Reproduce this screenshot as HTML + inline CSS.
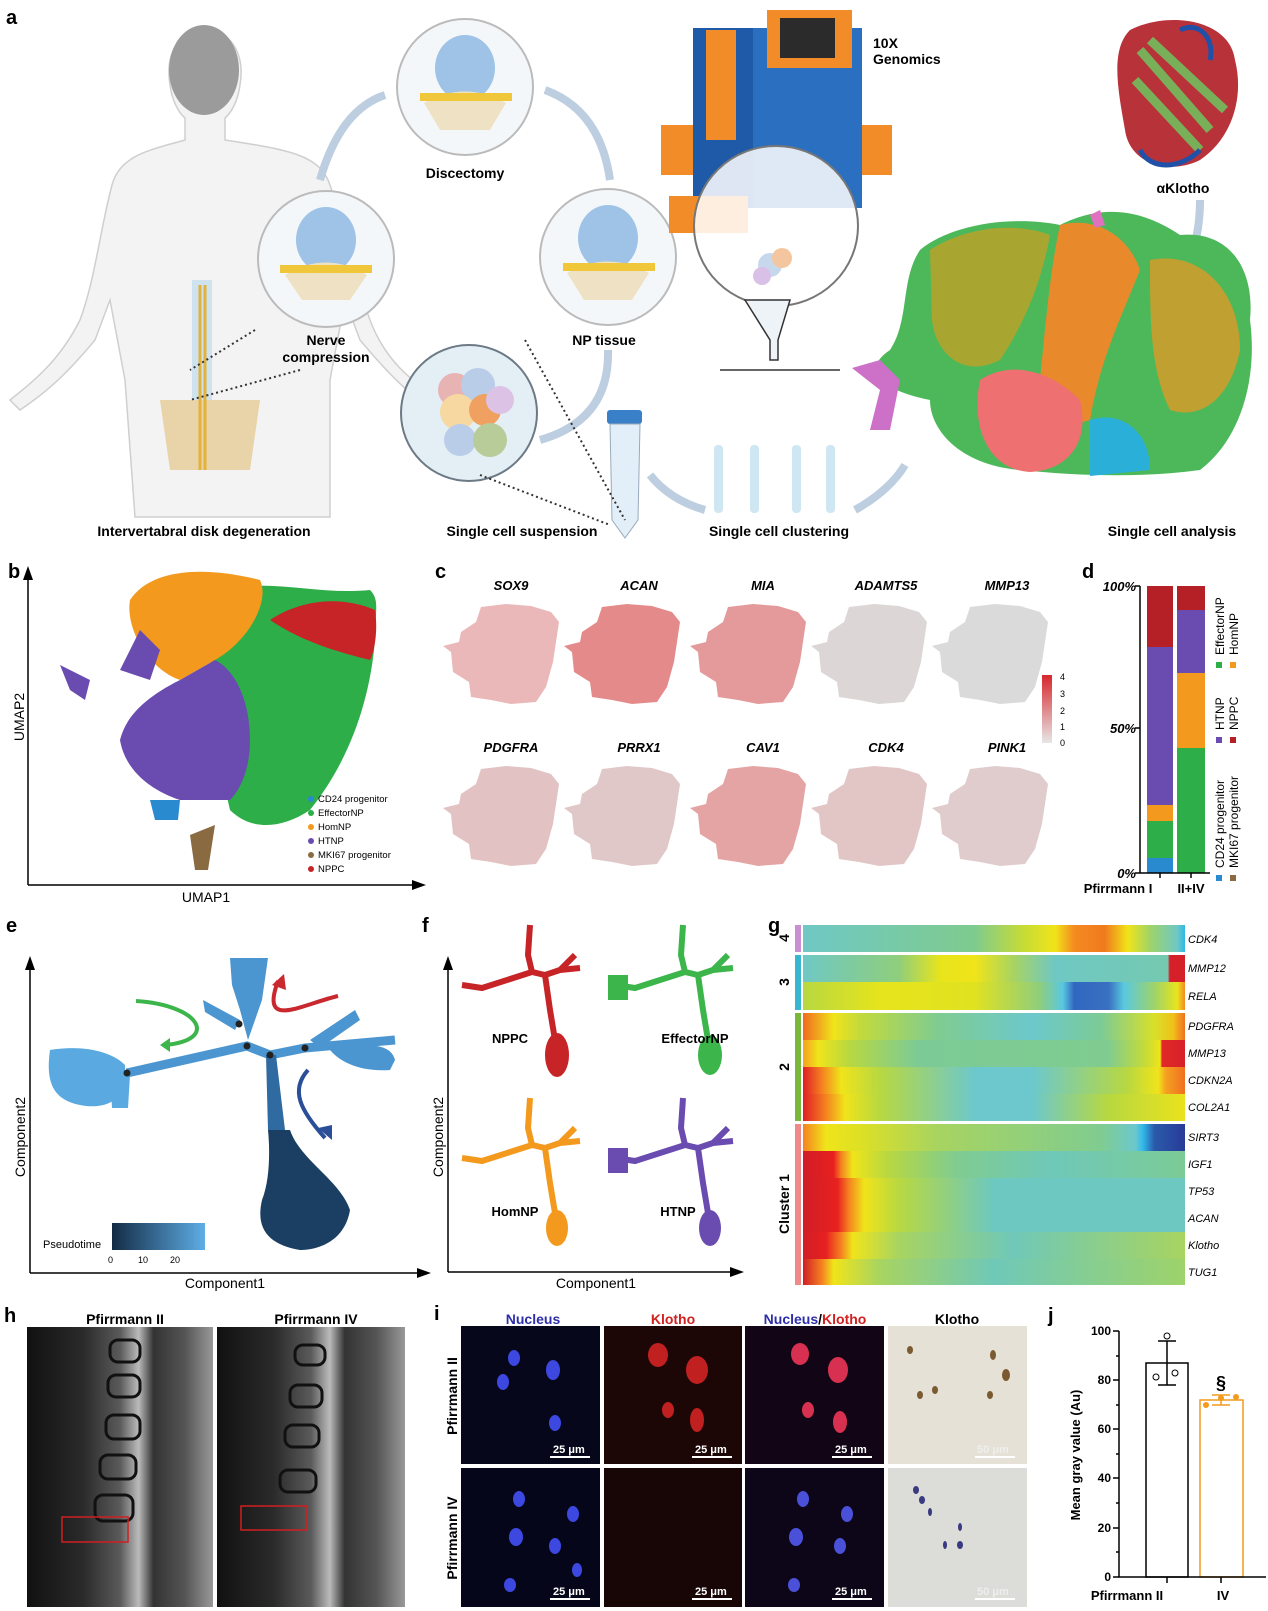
<!DOCTYPE html>
<html><head><meta charset="utf-8"><style>
body{margin:0;background:#fff}
svg{display:block}
text{font-family:"Liberation Sans",sans-serif}
.b{font-weight:bold}
</style></head><body>
<svg width="1268" height="1611" viewBox="0 0 1268 1611" xmlns="http://www.w3.org/2000/svg">
<defs>
<radialGradient id="glow" cx="0.5" cy="0.5" r="0.5"><stop offset="0" stop-color="#f2a0a0"/><stop offset="0.6" stop-color="#f7c8c8"/><stop offset="1" stop-color="#fff" stop-opacity="0"/></radialGradient>
<linearGradient id="pt" x1="0" x2="1"><stop offset="0" stop-color="#132b45"/><stop offset="1" stop-color="#5eaee6"/></linearGradient>
<linearGradient id="cb" x1="0" x2="0" y1="0" y2="1"><stop offset="0" stop-color="#d7282e"/><stop offset="1" stop-color="#e6e6e6"/></linearGradient>
<linearGradient id="mri" x1="0" x2="1"><stop offset="0" stop-color="#111"/><stop offset="0.3" stop-color="#2a2a2a"/><stop offset="0.5" stop-color="#5a5a5a"/><stop offset="0.6" stop-color="#bbb"/><stop offset="0.68" stop-color="#333"/><stop offset="0.85" stop-color="#555"/><stop offset="1" stop-color="#999"/></linearGradient>
<linearGradient id="r1" x1="0" x2="1"><stop offset="0" stop-color="#6fc8c4"/><stop offset=".45" stop-color="#7fcb8e"/><stop offset=".58" stop-color="#c8dc34"/><stop offset=".66" stop-color="#f0e41a"/><stop offset=".71" stop-color="#f58a20"/><stop offset=".79" stop-color="#f07a1e"/><stop offset=".85" stop-color="#f0e41a"/><stop offset=".91" stop-color="#9ed36a"/><stop offset=".98" stop-color="#6fc8c4"/><stop offset="1" stop-color="#2db8ea"/></linearGradient>
<linearGradient id="r2" x1="0" x2="1"><stop offset="0" stop-color="#6fc8c4"/><stop offset=".25" stop-color="#8fce7c"/><stop offset=".36" stop-color="#e8e41c"/><stop offset=".45" stop-color="#f0e41a"/><stop offset=".55" stop-color="#a8d460"/><stop offset=".66" stop-color="#6fc8c4"/><stop offset=".955" stop-color="#74c9b0"/><stop offset=".96" stop-color="#d5202a"/><stop offset="1" stop-color="#d5202a"/></linearGradient>
<linearGradient id="r3" x1="0" x2="1"><stop offset="0" stop-color="#b8d840"/><stop offset=".2" stop-color="#e6e41c"/><stop offset=".45" stop-color="#e0e220"/><stop offset=".62" stop-color="#8fce7c"/><stop offset=".68" stop-color="#5ac8e0"/><stop offset=".71" stop-color="#3068c0"/><stop offset=".8" stop-color="#3a70c0"/><stop offset=".84" stop-color="#5ac8e0"/><stop offset=".92" stop-color="#9ed36a"/><stop offset=".98" stop-color="#e8e41c"/><stop offset="1" stop-color="#f58a20"/></linearGradient>
<linearGradient id="r4" x1="0" x2="1"><stop offset="0" stop-color="#f06a20"/><stop offset=".08" stop-color="#f0e41a"/><stop offset=".15" stop-color="#c2da3c"/><stop offset=".35" stop-color="#80cc90"/><stop offset=".6" stop-color="#6cc8cc"/><stop offset=".78" stop-color="#7ccb96"/><stop offset=".92" stop-color="#d8e02a"/><stop offset=".97" stop-color="#f0c01a"/><stop offset="1" stop-color="#f07020"/></linearGradient>
<linearGradient id="r5" x1="0" x2="1"><stop offset="0" stop-color="#f5a020"/><stop offset=".04" stop-color="#f0e41a"/><stop offset=".12" stop-color="#b8d840"/><stop offset=".3" stop-color="#7ccb96"/><stop offset=".8" stop-color="#80cc90"/><stop offset=".9" stop-color="#c8dc34"/><stop offset=".935" stop-color="#f0e41a"/><stop offset=".94" stop-color="#e02a26"/><stop offset="1" stop-color="#d5202a"/></linearGradient>
<linearGradient id="r6" x1="0" x2="1"><stop offset="0" stop-color="#e01e26"/><stop offset=".05" stop-color="#f58220"/><stop offset=".1" stop-color="#f0e41a"/><stop offset=".2" stop-color="#b8d840"/><stop offset=".45" stop-color="#6cc8cc"/><stop offset=".6" stop-color="#6cc8cc"/><stop offset=".85" stop-color="#b8d840"/><stop offset=".93" stop-color="#f0e41a"/><stop offset=".95" stop-color="#f5a020"/><stop offset="1" stop-color="#f07020"/></linearGradient>
<linearGradient id="r7" x1="0" x2="1"><stop offset="0" stop-color="#e01e26"/><stop offset=".06" stop-color="#f58220"/><stop offset=".11" stop-color="#f0e41a"/><stop offset=".2" stop-color="#b8d840"/><stop offset=".45" stop-color="#6cc8cc"/><stop offset=".6" stop-color="#6cc8cc"/><stop offset=".8" stop-color="#b8d840"/><stop offset="1" stop-color="#eae21c"/></linearGradient>
<linearGradient id="r8" x1="0" x2="1"><stop offset="0" stop-color="#f58220"/><stop offset=".06" stop-color="#f0e41a"/><stop offset=".15" stop-color="#dde024"/><stop offset=".35" stop-color="#a8d460"/><stop offset=".78" stop-color="#80cc90"/><stop offset=".87" stop-color="#6cc8cc"/><stop offset=".89" stop-color="#30b8ea"/><stop offset=".92" stop-color="#2a5aaa"/><stop offset="1" stop-color="#283c98"/></linearGradient>
<linearGradient id="r9" x1="0" x2="1"><stop offset="0" stop-color="#d01e26"/><stop offset=".08" stop-color="#e82020"/><stop offset=".1" stop-color="#f58220"/><stop offset=".13" stop-color="#f0e41a"/><stop offset=".22" stop-color="#b8d840"/><stop offset=".4" stop-color="#80cc90"/><stop offset=".65" stop-color="#6fc8b8"/><stop offset="1" stop-color="#7ccb96"/></linearGradient>
<linearGradient id="r10" x1="0" x2="1"><stop offset="0" stop-color="#d01e26"/><stop offset=".09" stop-color="#e82020"/><stop offset=".12" stop-color="#f58220"/><stop offset=".16" stop-color="#f0e41a"/><stop offset=".25" stop-color="#b8d840"/><stop offset=".5" stop-color="#6cc8c0"/><stop offset="1" stop-color="#6cc8c0"/></linearGradient>
<linearGradient id="r11" x1="0" x2="1"><stop offset="0" stop-color="#d01e26"/><stop offset=".06" stop-color="#e82020"/><stop offset=".1" stop-color="#f58220"/><stop offset=".13" stop-color="#f0e41a"/><stop offset=".25" stop-color="#a8d460"/><stop offset=".55" stop-color="#6fc8b8"/><stop offset="1" stop-color="#a8d460"/></linearGradient>
<linearGradient id="r12" x1="0" x2="1"><stop offset="0" stop-color="#d01e26"/><stop offset=".05" stop-color="#f58220"/><stop offset=".08" stop-color="#f0e41a"/><stop offset=".2" stop-color="#a8d460"/><stop offset=".5" stop-color="#6fc8b8"/><stop offset="1" stop-color="#9ed36a"/></linearGradient>
<path id="blob" d="M10 50 L2 44 L18 40 L20 30 L35 20 L40 5 L65 2 L90 4 L110 10 L118 20 L115 40 L112 60 L105 85 L95 100 L70 102 L50 98 L30 95 L28 80 L12 70 Z"/>
</defs>

<!-- ================= PANEL A ================= -->
<text x="6" y="24" class="b" font-size="20">a</text>
<ellipse cx="240" cy="330" rx="80" ry="110" fill="url(#glow)"/>
<path d="M204 30 C178 30 165 55 170 85 C172 100 178 112 185 118 L185 140 C150 150 120 155 112 185 C100 230 95 280 80 320 C60 360 35 380 10 400 L20 410 C50 390 70 370 95 340 L110 300 L125 380 L135 517 L330 517 L330 380 L345 300 L360 340 C385 370 405 390 430 410 L440 400 C410 380 385 360 370 320 C355 280 345 230 330 185 C320 155 290 150 225 140 L225 118 C232 112 238 100 240 85 C245 55 232 30 204 30 Z" fill="#f3f3f3" stroke="#cfcfcf" stroke-width="1.5"/>
<ellipse cx="204" cy="70" rx="35" ry="45" fill="#9b9b9b"/>
<rect x="192" y="280" width="20" height="130" fill="#cfe3ef"/>
<path d="M160 400 L260 400 L250 470 L170 470 Z" fill="#e9d3a8"/>
<path d="M200 285 L200 470 M205 285 L205 470" stroke="#e2b23a" stroke-width="3"/>
<circle cx="326" cy="259" r="68" fill="#f4f7fa" stroke="#bbb" stroke-width="2"/>
<ellipse cx="326" cy="240" rx="30" ry="33" fill="#9ec3e6"/><path d="M285 275 Q326 250 367 275 L350 300 L302 300Z" fill="#efe2c4"/><rect x="280" y="265" width="92" height="8" fill="#f0c73a"/>
<circle cx="465" cy="87" r="68" fill="#f4f7fa" stroke="#bbb" stroke-width="2"/>
<ellipse cx="465" cy="68" rx="30" ry="33" fill="#9ec3e6"/><path d="M424 103 Q465 80 506 103 L490 130 L440 130Z" fill="#efe2c4"/><rect x="420" y="93" width="92" height="8" fill="#f0c73a"/>
<circle cx="608" cy="257" r="68" fill="#f4f7fa" stroke="#bbb" stroke-width="2"/>
<ellipse cx="608" cy="238" rx="30" ry="33" fill="#9ec3e6"/><path d="M567 273 Q608 250 649 273 L632 300 L584 300Z" fill="#efe2c4"/><rect x="563" y="263" width="92" height="8" fill="#f0c73a"/>
<circle cx="469" cy="413" r="68" fill="#e3eef5" stroke="#6c7a86" stroke-width="2"/>
<circle cx="455" cy="390" r="17" fill="#e8b3b3"/><circle cx="478" cy="385" r="17" fill="#b9cde8"/><circle cx="458" cy="412" r="18" fill="#f6d8a0"/><circle cx="485" cy="410" r="16" fill="#f0a060"/><circle cx="500" cy="400" r="14" fill="#dcc3e6"/><circle cx="460" cy="440" r="16" fill="#b9cde8"/><circle cx="490" cy="440" r="17" fill="#b8cc9a"/>
<path d="M320 180 Q340 110 385 95" stroke="#bccee0" stroke-width="8" fill="none"/>
<path d="M545 90 Q600 110 610 180" stroke="#bccee0" stroke-width="8" fill="none"/>
<path d="M608 350 Q610 420 540 440" stroke="#bccee0" stroke-width="8" fill="none"/>
<path d="M650 475 Q670 500 705 510" stroke="#bccee0" stroke-width="8" fill="none"/>
<path d="M855 510 Q890 490 905 465" stroke="#bccee0" stroke-width="8" fill="none"/>
<path d="M1185 270 Q1200 240 1200 200" stroke="#bccee0" stroke-width="8" fill="none"/>
<text x="465" y="178" class="b" font-size="14" text-anchor="middle">Discectomy</text>
<text x="326" y="345" class="b" font-size="14" text-anchor="middle">Nerve</text>
<text x="326" y="362" class="b" font-size="14" text-anchor="middle">compression</text>
<text x="604" y="345" class="b" font-size="14" text-anchor="middle">NP tissue</text>
<!-- machine -->
<rect x="661" y="125" width="32" height="50" fill="#f28c28"/><rect x="862" y="125" width="30" height="50" fill="#f28c28"/>
<rect x="693" y="28" width="169" height="180" fill="#2a6fc0"/><rect x="693" y="28" width="60" height="180" fill="#1f5aa8"/>
<rect x="706" y="30" width="30" height="110" fill="#f28c28"/>
<rect x="767" y="10" width="85" height="58" fill="#f28c28"/><rect x="780" y="18" width="55" height="40" fill="#2b2b2b"/>
<rect x="669" y="196" width="79" height="37" fill="#f28c28"/>
<ellipse cx="776" cy="226" rx="82" ry="80" fill="#fff" fill-opacity="0.85" stroke="#777" stroke-width="2"/>
<circle cx="770" cy="265" r="12" fill="#c8d8ec"/><circle cx="782" cy="258" r="10" fill="#f4c6a0"/><circle cx="762" cy="276" r="9" fill="#d8c0e6"/>
<text x="873" y="48" class="b" font-size="14">10X</text><text x="873" y="64" class="b" font-size="14">Genomics</text>
<path d="M745 300 L790 300 L778 340 L778 360 L770 360 L770 340 Z" fill="#eef3f8" stroke="#333" stroke-width="1.5"/>
<path d="M720 370 L840 370" stroke="#333" stroke-width="1.5" fill="none"/>
<rect x="714" y="445" width="9" height="68" rx="4" fill="#cfe6f3"/><rect x="750" y="445" width="9" height="68" rx="4" fill="#cfe6f3"/><rect x="792" y="445" width="9" height="68" rx="4" fill="#cfe6f3"/><rect x="826" y="445" width="9" height="68" rx="4" fill="#cfe6f3"/>
<rect x="607" y="410" width="35" height="14" rx="3" fill="#3a80c8"/><path d="M610 424 L640 424 L638 520 L625 538 L612 520 Z" fill="#e3eff8" stroke="#9ab" />
<path d="M525 340 L625 520 M480 475 L610 525" stroke="#333" stroke-width="2" stroke-dasharray="2 3"/>
<path d="M255 330 L190 370 M300 370 L190 400" stroke="#333" stroke-width="2" stroke-dasharray="2 3"/>
<!-- protein -->
<path d="M1130 30 C1170 10 1230 20 1235 60 C1245 100 1230 140 1200 160 C1170 175 1130 165 1125 130 C1118 90 1110 50 1130 30Z" fill="#b8323a"/>
<path d="M1140 50 L1210 130 M1150 40 L1225 110 M1135 80 L1200 150" stroke="#7aaf5a" stroke-width="9"/>
<path d="M1180 30 C1200 20 1215 40 1210 60 M1140 150 C1150 170 1180 170 1200 150" stroke="#2050a8" stroke-width="5" fill="none"/>
<text x="1183" y="193" class="b" font-size="14" text-anchor="middle">αKlotho</text>
<!-- big umap -->
<path d="M920 250 C950 225 1010 215 1060 225 C1110 200 1150 215 1180 235 C1230 230 1255 270 1250 320 C1258 380 1240 440 1200 470 C1140 478 1080 476 1020 470 C960 465 930 430 930 400 C880 390 860 370 890 350 C910 320 900 280 920 250Z" fill="#4cb85a"/>
<path d="M930 250 C960 230 1010 220 1050 235 C1040 290 1020 330 1000 360 C960 380 935 350 932 320 Z" fill="#a8a630"/>
<path d="M1060 225 C1100 215 1130 240 1140 270 C1120 320 1100 360 1090 420 C1060 430 1040 410 1040 380 C1045 330 1050 270 1060 225Z" fill="#e88a2c"/>
<path d="M1150 260 C1200 250 1240 290 1240 350 C1230 400 1200 420 1170 410 C1150 370 1150 320 1150 260Z" fill="#c0a030"/>
<path d="M980 380 C1010 360 1050 370 1080 400 C1090 440 1070 470 1030 472 C990 470 970 430 980 380Z" fill="#ee7070"/>
<path d="M1090 420 C1120 410 1150 430 1150 470 L1090 476 Z" fill="#2ab0d8"/>
<path d="M852 368 L880 360 L900 380 L890 430 L870 430 L880 390Z" fill="#cc70c8"/>
<path d="M1090 215 L1100 210 L1105 225 L1095 228Z" fill="#e070c0"/>
<text x="204" y="536" class="b" font-size="14" text-anchor="middle">Intervertabral disk degeneration</text>
<text x="522" y="536" class="b" font-size="14" text-anchor="middle">Single cell suspension</text>
<text x="779" y="536" class="b" font-size="14" text-anchor="middle">Single cell clustering</text>
<text x="1172" y="536" class="b" font-size="14" text-anchor="middle">Single cell analysis</text>

<!-- ================= PANEL B ================= -->
<text x="8" y="578" class="b" font-size="20">b</text>
<path d="M28 885 L28 575" stroke="#000" stroke-width="1.5"/><path d="M23 580 L28 566 L33 580Z"/>
<path d="M28 885 L420 885" stroke="#000" stroke-width="1.5"/><path d="M412 880 L426 885 L412 890Z"/>
<text x="206" y="902" font-size="14" text-anchor="middle">UMAP1</text>
<text transform="translate(24,717) rotate(-90)" font-size="14" text-anchor="middle">UMAP2</text>
<path d="M225 588 C280 580 320 595 370 590 C380 600 375 610 375 640 C370 700 350 760 310 810 C280 830 250 830 230 810 C200 680 210 630 225 588Z" fill="#2eae48"/>
<path d="M270 620 C300 600 340 595 375 610 C378 630 375 650 370 660 C330 650 300 640 270 620Z" fill="#c62426"/>
<path d="M130 600 C150 570 200 565 260 580 C270 600 250 640 215 660 L180 680 C150 670 125 630 130 600Z" fill="#f39a1e"/>
<path d="M180 680 L215 660 C235 670 250 700 250 740 C250 770 240 790 230 800 L180 800 C150 790 125 770 120 740 C125 720 140 700 180 680Z" fill="#6a4cb0"/>
<path d="M140 630 L160 650 L150 680 L120 670Z" fill="#6a4cb0"/>
<path d="M60 665 L90 680 L85 700 L70 690Z" fill="#6a4cb0"/>
<path d="M150 800 L180 800 L178 820 L155 820Z" fill="#2a8ad0"/>
<path d="M190 835 L215 825 L208 870 L195 870Z" fill="#8a6a40"/>
<g font-size="9.5">
<circle cx="311" cy="799" r="3" fill="#2a8ad0"/><text x="318" y="802">CD24 progenitor</text>
<circle cx="311" cy="813" r="3" fill="#2eae48"/><text x="318" y="816">EffectorNP</text>
<circle cx="311" cy="827" r="3" fill="#f39a1e"/><text x="318" y="830">HomNP</text>
<circle cx="311" cy="841" r="3" fill="#6a4cb0"/><text x="318" y="844">HTNP</text>
<circle cx="311" cy="855" r="3" fill="#8a6a40"/><text x="318" y="858">MKI67 progenitor</text>
<circle cx="311" cy="869" r="3" fill="#c62426"/><text x="318" y="872">NPPC</text>
</g>

<!-- ================= PANEL C ================= -->
<text x="435" y="578" class="b" font-size="20">c</text>
<g class="b" font-size="13" font-style="italic" text-anchor="middle">
<text x="511" y="590">SOX9</text><text x="639" y="590">ACAN</text><text x="763" y="590">MIA</text><text x="886" y="590">ADAMTS5</text><text x="1007" y="590">MMP13</text>
<text x="511" y="752">PDGFRA</text><text x="639" y="752">PRRX1</text><text x="763" y="752">CAV1</text><text x="886" y="752">CDK4</text><text x="1007" y="752">PINK1</text>
</g>
<use href="#blob" x="441" y="602" fill="#eab8b8"/><use href="#blob" x="562" y="602" fill="#e48a8a"/><use href="#blob" x="688" y="602" fill="#e49a9a"/><use href="#blob" x="809" y="602" fill="#dcd6d6"/><use href="#blob" x="930" y="602" fill="#dadada"/>
<use href="#blob" x="441" y="764" fill="#e2c2c2"/><use href="#blob" x="562" y="764" fill="#e0c8c8"/><use href="#blob" x="688" y="764" fill="#e4a4a4"/><use href="#blob" x="809" y="764" fill="#e2c6c6"/><use href="#blob" x="930" y="764" fill="#e0cccc"/>
<rect x="1042" y="675" width="10" height="68" fill="url(#cb)"/>
<g font-size="9"><text x="1060" y="680">4</text><text x="1060" y="697">3</text><text x="1060" y="714">2</text><text x="1060" y="730">1</text><text x="1060" y="746">0</text></g>

<!-- ================= PANEL D ================= -->
<text x="1082" y="578" class="b" font-size="20">d</text>
<rect x="1147" y="586" width="26" height="61" fill="#b52026"/><rect x="1147" y="647" width="26" height="158" fill="#6a4cb0"/><rect x="1147" y="805" width="26" height="16" fill="#f39a1e"/><rect x="1147" y="821" width="26" height="37" fill="#2eae48"/><rect x="1147" y="858" width="26" height="15" fill="#2a8ad0"/>
<rect x="1177" y="586" width="28" height="24" fill="#b52026"/><rect x="1177" y="610" width="28" height="63" fill="#6a4cb0"/><rect x="1177" y="673" width="28" height="75" fill="#f39a1e"/><rect x="1177" y="748" width="28" height="125" fill="#2eae48"/>
<path d="M1140 586 L1140 873 L1210 873 M1135 586 L1140 586 M1135 728 L1140 728 M1135 873 L1140 873 M1160 873 L1160 878 M1191 873 L1191 878" stroke="#000" stroke-width="1.5" fill="none"/>
<g class="b" font-size="13" text-anchor="end" font-style="italic"><text x="1136" y="591">100%</text><text x="1136" y="733">50%</text><text x="1136" y="878">0%</text></g>
<text x="1118" y="893" class="b" font-size="13" text-anchor="middle">Pfirrmann I</text><text x="1191" y="893" class="b" font-size="13" text-anchor="middle">II+IV</text>
<g font-size="12">
<text transform="translate(1224,868) rotate(-90)">CD24 progenitor</text><text transform="translate(1238,868) rotate(-90)">MKI67 progenitor</text>
<text transform="translate(1224,730) rotate(-90)">HTNP</text><text transform="translate(1238,730) rotate(-90)">NPPC</text>
<text transform="translate(1224,655) rotate(-90)">EffectorNP</text><text transform="translate(1238,655) rotate(-90)">HomNP</text>
</g>
<rect x="1216" y="875" width="6" height="6" fill="#2a8ad0"/><rect x="1230" y="875" width="6" height="6" fill="#8a6a40"/>
<rect x="1216" y="737" width="6" height="6" fill="#6a4cb0"/><rect x="1230" y="737" width="6" height="6" fill="#b52026"/>
<rect x="1216" y="662" width="6" height="6" fill="#2eae48"/><rect x="1230" y="662" width="6" height="6" fill="#f39a1e"/>

<!-- ================= PANEL E ================= -->
<text x="6" y="932" class="b" font-size="20">e</text>
<path d="M30 1273 L30 965" stroke="#000" stroke-width="1.5"/><path d="M25 970 L30 956 L35 970Z"/>
<path d="M30 1273 L425 1273" stroke="#000" stroke-width="1.5"/><path d="M417 1268 L431 1273 L417 1278Z"/>
<text x="225" y="1288" font-size="14" text-anchor="middle">Component1</text>
<text transform="translate(25,1137) rotate(-90)" font-size="14" text-anchor="middle">Component2</text>
<path d="M50 1050 C80 1045 110 1050 125 1065 L125 1085 C120 1100 105 1110 80 1105 C55 1100 45 1085 50 1050Z" fill="#5aa9e0"/>
<path d="M110 1075 L130 1075 L128 1108 L112 1108Z" fill="#5aa9e0"/>
<path d="M127 1073 L247 1046 L270 1055 L305 1048 L395 1040" stroke="#4b95d0" stroke-width="9" fill="none"/>
<path d="M230 958 L268 958 L262 1000 L248 1040 L240 1010 L232 985Z" fill="#4b95d0"/>
<path d="M203 1000 L240 1020 L235 1030 L205 1012Z" fill="#4b95d0"/>
<path d="M310 1040 L355 1010 L360 1020 L320 1048Z" fill="#4b95d0"/>
<path d="M330 1050 C360 1045 390 1040 395 1060 L390 1070 C360 1072 340 1062 330 1050Z" fill="#4b95d0"/>
<path d="M266 1055 L276 1055 L285 1130 L268 1130Z" fill="#2f6aa0"/>
<path d="M268 1130 L290 1130 C300 1160 340 1180 350 1210 C345 1240 320 1250 300 1250 C270 1245 255 1230 262 1200 C270 1180 270 1150 268 1130Z" fill="#1b3e63"/>
<g fill="#222"><circle cx="127" cy="1073" r="3.5"/><circle cx="247" cy="1046" r="3.5"/><circle cx="270" cy="1055" r="3.5"/><circle cx="239" cy="1024" r="3.5"/><circle cx="305" cy="1048" r="3.5"/></g>
<path d="M136 1001 C200 1005 220 1040 165 1045" stroke="#3cb54a" stroke-width="4" fill="none"/><path d="M170 1038 L160 1045 L170 1052Z" fill="#3cb54a"/>
<path d="M338 996 C300 1005 260 1030 278 981" stroke="#c8282e" stroke-width="4" fill="none"/><path d="M272 985 L284 974 L286 990Z" fill="#c8282e"/>
<path d="M308 1070 C290 1090 300 1110 325 1138" stroke="#2a4f98" stroke-width="4" fill="none"/><path d="M318 1128 L332 1140 L332 1125Z" fill="#2a4f98"/>
<rect x="112" y="1223" width="93" height="27" fill="url(#pt)"/>
<text x="43" y="1248" font-size="11">Pseudotime</text>
<g font-size="9"><text x="108" y="1263">0</text><text x="138" y="1263">10</text><text x="170" y="1263">20</text></g>

<!-- ================= PANEL F ================= -->
<text x="422" y="932" class="b" font-size="20">f</text>
<path d="M448 1272 L448 965" stroke="#000" stroke-width="1.5"/><path d="M443 970 L448 956 L453 970Z"/>
<path d="M448 1272 L738 1272" stroke="#000" stroke-width="1.5"/><path d="M730 1267 L744 1272 L730 1277Z"/>
<text x="596" y="1288" font-size="14" text-anchor="middle">Component1</text>
<text transform="translate(443,1137) rotate(-90)" font-size="14" text-anchor="middle">Component2</text>
<g id="tr" fill="none" stroke-width="6">
<path d="M462 985 L482 988 L532 972 L545 975 L560 970 L580 968 M532 972 L528 955 L530 925 M545 975 L550 1010 L555 1040 M560 970 L575 955"/>
</g>
<g stroke="#c62426" fill="#c62426"><use href="#tr"/><ellipse cx="557" cy="1055" rx="12" ry="22" stroke="none"/></g>
<g stroke="#3cb54a" fill="#3cb54a" transform="translate(153,0)"><use href="#tr"/><ellipse cx="557" cy="1055" rx="12" ry="20" stroke="none"/><rect x="455" y="975" width="20" height="25" stroke="none"/></g>
<g stroke="#f39a1e" fill="#f39a1e" transform="translate(0,173)"><use href="#tr"/><ellipse cx="557" cy="1055" rx="11" ry="18" stroke="none"/></g>
<g stroke="#6a4cb0" fill="#6a4cb0" transform="translate(153,173)"><use href="#tr"/><ellipse cx="557" cy="1055" rx="11" ry="18" stroke="none"/><rect x="455" y="975" width="20" height="25" stroke="none"/></g>
<g class="b" font-size="13" text-anchor="middle"><text x="510" y="1043">NPPC</text><text x="695" y="1043">EffectorNP</text><text x="515" y="1216">HomNP</text><text x="678" y="1216">HTNP</text></g>

<!-- ================= PANEL G ================= -->
<text x="768" y="932" class="b" font-size="20">g</text>
<rect x="795" y="925" width="6" height="27" fill="#c890d0"/>
<rect x="795" y="955" width="6" height="55" fill="#38b8d0"/>
<rect x="795" y="1013" width="6" height="108" fill="#7ab83c"/>
<rect x="795" y="1124" width="6" height="161" fill="#f08a8a"/>
<g class="b" font-size="14" text-anchor="middle">
<text transform="translate(789,938) rotate(-90)">4</text><text transform="translate(789,982) rotate(-90)">3</text><text transform="translate(789,1067) rotate(-90)">2</text><text transform="translate(789,1204) rotate(-90)">Cluster 1</text>
</g>
<rect x="803" y="925" width="382" height="27" fill="url(#r1)"/>
<rect x="803" y="955" width="382" height="27" fill="url(#r2)"/>
<rect x="803" y="982" width="382" height="28" fill="url(#r3)"/>
<rect x="803" y="1013" width="382" height="27" fill="url(#r4)"/>
<rect x="803" y="1040" width="382" height="27" fill="url(#r5)"/>
<rect x="803" y="1067" width="382" height="27" fill="url(#r6)"/>
<rect x="803" y="1094" width="382" height="27" fill="url(#r7)"/>
<rect x="803" y="1124" width="382" height="27" fill="url(#r8)"/>
<rect x="803" y="1151" width="382" height="27" fill="url(#r9)"/>
<rect x="803" y="1178" width="382" height="27" fill="url(#r10)"/>
<rect x="803" y="1205" width="382" height="27" fill="url(#r10)"/>
<rect x="803" y="1232" width="382" height="27" fill="url(#r11)"/>
<rect x="803" y="1259" width="382" height="26" fill="url(#r12)"/>
<g font-size="11" font-style="italic">
<text x="1188" y="943">CDK4</text><text x="1188" y="972">MMP12</text><text x="1188" y="1000">RELA</text><text x="1188" y="1030">PDGFRA</text><text x="1188" y="1057">MMP13</text><text x="1188" y="1084">CDKN2A</text><text x="1188" y="1111">COL2A1</text><text x="1188" y="1141">SIRT3</text><text x="1188" y="1168">IGF1</text><text x="1188" y="1195">TP53</text><text x="1188" y="1222">ACAN</text><text x="1188" y="1249">Klotho</text><text x="1188" y="1276">TUG1</text>
</g>

<!-- ================= PANEL H ================= -->
<text x="4" y="1322" class="b" font-size="20">h</text>
<text x="125" y="1324" class="b" font-size="14" text-anchor="middle">Pfirrmann II</text>
<text x="316" y="1324" class="b" font-size="14" text-anchor="middle">Pfirrmann IV</text>
<rect x="27" y="1327" width="186" height="280" fill="url(#mri)"/>
<rect x="217" y="1327" width="188" height="280" fill="url(#mri)"/>
<g fill="none" stroke="#111" stroke-width="3">
<rect x="110" y="1340" width="30" height="22" rx="8"/><rect x="108" y="1375" width="32" height="22" rx="8"/><rect x="106" y="1415" width="34" height="24" rx="8"/><rect x="100" y="1455" width="36" height="24" rx="8"/><rect x="95" y="1495" width="38" height="26" rx="8"/>
<rect x="295" y="1345" width="30" height="20" rx="8"/><rect x="290" y="1385" width="32" height="22" rx="8"/><rect x="285" y="1425" width="34" height="22" rx="8"/><rect x="280" y="1470" width="36" height="22" rx="8"/>
</g>
<rect x="62" y="1517" width="66" height="25" fill="none" stroke="#d02020" stroke-width="1.5"/>
<rect x="241" y="1506" width="66" height="24" fill="none" stroke="#d02020" stroke-width="1.5"/>

<!-- ================= PANEL I ================= -->
<text x="434" y="1320" class="b" font-size="20">i</text>
<g class="b" font-size="14" text-anchor="middle">
<text x="533" y="1324" fill="#2e2ea8">Nucleus</text><text x="673" y="1324" fill="#d02020">Klotho</text>
<text x="815" y="1324"><tspan fill="#2e2ea8">Nucleus</tspan><tspan>/</tspan><tspan fill="#d02020">Klotho</tspan></text>
<text x="957" y="1324">Klotho</text>
</g>
<text transform="translate(457,1396) rotate(-90)" class="b" font-size="14" text-anchor="middle">Pfirrmann II</text>
<text transform="translate(457,1538) rotate(-90)" class="b" font-size="14" text-anchor="middle">Pfirrmann IV</text>
<rect x="461" y="1326" width="139" height="138" fill="#06071a"/>
<rect x="604" y="1326" width="138" height="138" fill="#1c0606"/>
<rect x="745" y="1326" width="139" height="138" fill="#120616"/>
<rect x="888" y="1326" width="139" height="138" fill="#e6e1d6"/>
<rect x="461" y="1468" width="139" height="139" fill="#05061a"/>
<rect x="604" y="1468" width="138" height="139" fill="#180606"/>
<rect x="745" y="1468" width="139" height="139" fill="#0c0618"/>
<rect x="888" y="1468" width="139" height="139" fill="#dcdcd8"/>
<g fill="#3c48e0"><ellipse cx="514" cy="1358" rx="6" ry="8"/><ellipse cx="553" cy="1370" rx="7" ry="10"/><ellipse cx="503" cy="1382" rx="6" ry="8"/><ellipse cx="555" cy="1423" rx="6" ry="8"/>
<ellipse cx="519" cy="1499" rx="6" ry="8"/><ellipse cx="573" cy="1514" rx="6" ry="8"/><ellipse cx="516" cy="1537" rx="7" ry="9"/><ellipse cx="555" cy="1546" rx="6" ry="8"/><ellipse cx="577" cy="1570" rx="5" ry="7"/><ellipse cx="510" cy="1585" rx="6" ry="7"/></g>
<g fill="#c02020"><ellipse cx="658" cy="1355" rx="10" ry="12"/><ellipse cx="697" cy="1370" rx="11" ry="14"/><ellipse cx="668" cy="1410" rx="6" ry="8"/><ellipse cx="697" cy="1420" rx="7" ry="12"/></g>
<g fill="#d83050"><ellipse cx="800" cy="1354" rx="9" ry="11"/><ellipse cx="838" cy="1370" rx="10" ry="13"/><ellipse cx="808" cy="1410" rx="6" ry="8"/><ellipse cx="840" cy="1422" rx="7" ry="11"/></g>
<g fill="#4a50d8"><ellipse cx="803" cy="1499" rx="6" ry="8"/><ellipse cx="847" cy="1514" rx="6" ry="8"/><ellipse cx="796" cy="1537" rx="7" ry="9"/><ellipse cx="840" cy="1546" rx="6" ry="8"/><ellipse cx="794" cy="1585" rx="6" ry="7"/></g>
<g fill="#7a5a30"><ellipse cx="910" cy="1350" rx="3" ry="4"/><ellipse cx="993" cy="1355" rx="3" ry="5"/><ellipse cx="920" cy="1395" rx="3" ry="4"/><ellipse cx="935" cy="1390" rx="3" ry="4"/><ellipse cx="1006" cy="1375" rx="4" ry="6"/><ellipse cx="990" cy="1395" rx="3" ry="4"/></g>
<g fill="#3a3a80"><ellipse cx="916" cy="1490" rx="3" ry="4"/><ellipse cx="922" cy="1500" rx="3" ry="4"/><ellipse cx="930" cy="1512" rx="2" ry="4"/><ellipse cx="960" cy="1527" rx="2" ry="4"/><ellipse cx="945" cy="1545" rx="2" ry="4"/><ellipse cx="960" cy="1545" rx="3" ry="4"/></g>
<g fill="#fff" font-family="Liberation Serif" font-weight="bold" font-size="11">
<text x="553" y="1453">25 μm</text><text x="695" y="1453">25 μm</text><text x="835" y="1453">25 μm</text><text x="977" y="1453" fill="#eee">50 μm</text>
<text x="553" y="1595">25 μm</text><text x="695" y="1595">25 μm</text><text x="835" y="1595">25 μm</text><text x="977" y="1595" fill="#eee">50 μm</text>
</g>
<g stroke="#fff" stroke-width="2"><path d="M550 1457 L590 1457 M692 1457 L732 1457 M832 1457 L872 1457 M975 1457 L1015 1457 M550 1599 L590 1599 M692 1599 L732 1599 M832 1599 L872 1599 M975 1599 L1015 1599"/></g>

<!-- ================= PANEL J ================= -->
<text x="1048" y="1322" class="b" font-size="20">j</text>
<text transform="translate(1080,1455) rotate(-90)" class="b" font-size="13" text-anchor="middle">Mean gray value (Au)</text>
<rect x="1146" y="1363" width="42" height="214" fill="#fff" stroke="#000" stroke-width="1.5"/>
<rect x="1200" y="1400" width="43" height="177" fill="#fff" stroke="#f39a1e" stroke-width="1.5"/>
<path d="M1167 1341 L1167 1385 M1158 1341 L1176 1341 M1158 1385 L1176 1385" stroke="#000" stroke-width="1.5"/>
<path d="M1221 1395 L1221 1405 M1212 1395 L1230 1395 M1212 1405 L1230 1405" stroke="#f39a1e" stroke-width="1.5"/>
<circle cx="1167" cy="1336" r="3" fill="#fff" stroke="#000"/><circle cx="1156" cy="1377" r="3" fill="#fff" stroke="#000"/><circle cx="1175" cy="1373" r="3" fill="#fff" stroke="#000"/>
<circle cx="1206" cy="1405" r="3" fill="#f39a1e"/><circle cx="1221" cy="1398" r="3" fill="#f39a1e"/><circle cx="1236" cy="1397" r="3" fill="#f39a1e"/>
<text x="1221" y="1389" class="b" font-size="18" text-anchor="middle">§</text>
<path d="M1119 1331 L1119 1577 L1266 1577" stroke="#000" stroke-width="1.5" fill="none"/>
<g stroke="#000" stroke-width="1.5">
<path d="M1113 1331 L1119 1331 M1113 1380 L1119 1380 M1113 1429 L1119 1429 M1113 1478 L1119 1478 M1113 1528 L1119 1528 M1113 1577 L1119 1577 M1116 1356 L1119 1356 M1116 1405 L1119 1405 M1116 1454 L1119 1454 M1116 1503 L1119 1503 M1116 1552 L1119 1552 M1167 1577 L1167 1583 M1221 1577 L1221 1583"/>
</g>
<g class="b" font-size="12" text-anchor="end"><text x="1111" y="1335">100</text><text x="1111" y="1384">80</text><text x="1111" y="1433">60</text><text x="1111" y="1482">40</text><text x="1111" y="1532">20</text><text x="1111" y="1581">0</text></g>
<text x="1127" y="1600" class="b" font-size="13" text-anchor="middle">Pfirrmann II</text>
<text x="1223" y="1600" class="b" font-size="13" text-anchor="middle">IV</text>
</svg>
</body></html>
